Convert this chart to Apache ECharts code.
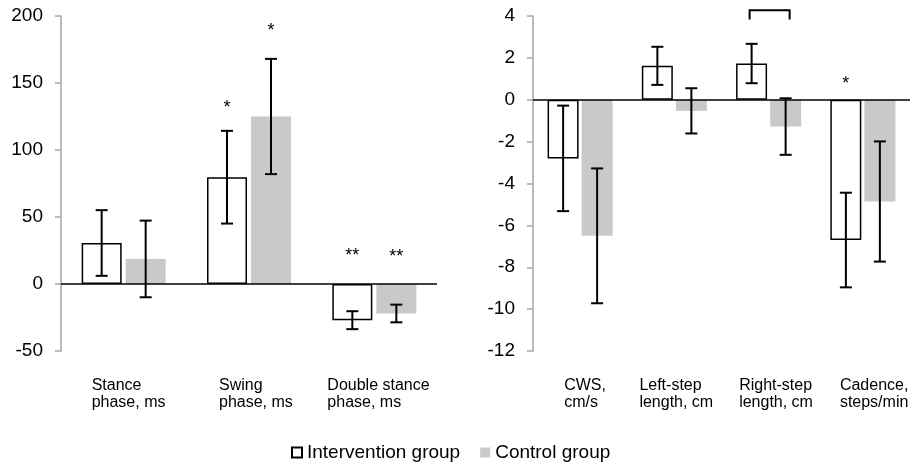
<!DOCTYPE html>
<html>
<head>
<meta charset="utf-8">
<script src="https://cdn.jsdelivr.net/npm/echarts@6/dist/echarts.min.js"></script>
<style>
html, body { margin: 0; padding: 0; background: #fff; }
#chart { width: 910px; height: 465px; }
</style>
</head>
<body>
<div id="chart"></div>
<script>
// left panel: gait phases (ms)
var phaseCats = ['Stance\nphase, ms', 'Swing\nphase, ms', 'Double stance\nphase, ms'];
var phaseInt = [30.6, 79.7, -27];
var phaseIntErr = [24.5, 34.6, 6.7];
var phaseCtrl = [18.7, 125, -22];
var phaseCtrlErr = [28.6, 43, 6.6];
var phaseStarInt = ['', '*', '**'];
var phaseStarIntY = [null, 134, 24];
var phaseStarCtrl = ['', '*', '**'];
var phaseStarCtrlY = [null, 192, 23];

// right panel: speed / step / cadence
var gaitCats = ['CWS,\ncm/s', 'Left-step\nlength, cm', 'Right-step\nlength, cm', 'Cadence,\nsteps/min'];
var gaitInt = [-2.8, 1.62, 1.73, -6.7];
var gaitIntErr = [2.52, 0.91, 0.94, 2.26];
var gaitCtrl = [-6.5, -0.53, -1.28, -4.86];
var gaitCtrlErr = [3.22, 1.08, 1.35, 2.87];
var gaitStarInt = ['', '', '', '*'];
var gaitStarIntY = [null, null, null, 0.93];
// bracket over right-step length: [category, top, leg end]
var gaitBracket = [[2, 4.28, 3.83]];

var FONT = 'Liberation Sans, Arial, sans-serif';
var CTRL_COLOR = '#c9c9c9';

var chart = echarts.init(document.getElementById('chart'));

function pairs(vals, errs) {
    var out = [];
    for (var i = 0; i < vals.length; i++) out.push([i, vals[i], errs[i]]);
    return out;
}
function starData(ys) {
    var out = [];
    for (var i = 0; i < ys.length; i++) if (ys[i] != null) out.push([i, ys[i]]);
    return out;
}

function errorRender(offset) {
    return function (params, api) {
        var x = api.coord([api.value(0), 0])[0] + offset;
        var v = api.value(1), e = api.value(2);
        var hi = api.coord([api.value(0), v + e])[1];
        var lo = api.coord([api.value(0), v - e])[1];
        var cap = 6;
        var st = { stroke: '#000', lineWidth: 2 };
        return {
            type: 'group',
            children: [
                { type: 'line', shape: { x1: x, y1: hi, x2: x, y2: lo }, style: st },
                { type: 'line', shape: { x1: x - cap, y1: hi, x2: x + cap, y2: hi }, style: st },
                { type: 'line', shape: { x1: x - cap, y1: lo, x2: x + cap, y2: lo }, style: st }
            ]
        };
    };
}

function starRender(offset, texts) {
    return function (params, api) {
        var p = api.coord([api.value(0), api.value(1)]);
        return {
            type: 'text',
            style: {
                x: p[0] + offset, y: p[1] + 4,
                text: texts[api.value(0)],
                fill: '#000', font: '18px ' + FONT,
                align: 'center', verticalAlign: 'middle'
            }
        };
    };
}

function bracketRender(offset) {
    return function (params, api) {
        var c = api.coord([api.value(0), api.value(1)]);
        var leg = api.coord([api.value(0), api.value(2)])[1];
        var x1 = c[0] - offset - 2, x2 = c[0] + offset + 4;
        return {
            type: 'polyline',
            shape: { points: [[x1, leg], [x1, c[1]], [x2, c[1]], [x2, leg]] },
            style: { stroke: '#000', lineWidth: 2, fill: null }
        };
    };
}

// category labels: left-aligned lines, block shifted per category
function catAxis(grid, cats, widths) {
    var rich = {};
    for (var i = 0; i < widths.length; i++) {
        rich['c' + i] = { width: widths[i], align: 'left', fontSize: 16, lineHeight: 17, fontFamily: FONT, color: '#000' };
    }
    return {
        type: 'category', gridIndex: grid, data: cats,
        axisLine: { show: false }, axisTick: { show: false },
        axisLabel: {
            interval: 0, margin: 26, align: 'center',
            formatter: function (value, idx) {
                return value.split('\n').map(function (s) { return '{c' + idx + '|' + s + '}'; }).join('\n');
            },
            rich: rich
        }
    };
}

function valAxis(grid, min, max, step) {
    return {
        type: 'value', gridIndex: grid, min: min, max: max, interval: step,
        axisLine: { show: true, lineStyle: { color: '#a6a6a6', width: 1.5 } },
        axisTick: { show: true, length: 6, lineStyle: { color: '#a6a6a6', width: 1.5 } },
        splitLine: { show: false },
        axisLabel: { margin: 18, fontSize: 19, fontFamily: FONT, color: '#000' }
    };
}

var zeroLine = {
    silent: true, symbol: 'none', label: { show: false },
    lineStyle: { color: '#000', width: 1.5, type: 'solid' },
    data: [{ yAxis: 0 }]
};

var leftOff = 22, rightOff = 17;

chart.setOption({
    animation: false,
    textStyle: { fontFamily: FONT },
    grid: [
        { left: 61, top: 16, width: 376, bottom: 114, containLabel: false, outerBoundsMode: 'none' },
        { left: 533, top: 16, width: 377, bottom: 114, containLabel: false, outerBoundsMode: 'none' }
    ],
    legend: {
        left: 286, top: 438,
        itemWidth: 10, itemHeight: 10, itemGap: 20,
        textStyle: { fontSize: 19, fontFamily: FONT, color: '#000' },
        data: [
            { name: 'Intervention group', icon: 'rect', itemStyle: { color: '#fff', borderColor: '#000', borderWidth: 2 } },
            { name: 'Control group', icon: 'rect', itemStyle: { color: CTRL_COLOR, borderWidth: 0 } }
        ]
    },
    xAxis: [
        catAxis(0, phaseCats, [64, 60, 94]),
        catAxis(1, gaitCats, [32, 70, 59, 46])
    ],
    yAxis: [
        valAxis(0, -50, 200, 50),
        valAxis(1, -12, 4, 2)
    ],
    series: [
        {
            name: 'Intervention group', type: 'bar', xAxisIndex: 0, yAxisIndex: 0,
            data: phaseInt, barWidth: 40, barGap: '10%',
            itemStyle: { color: '#fff', borderColor: '#000', borderWidth: 1.5 },
            markLine: zeroLine
        },
        {
            name: 'Control group', type: 'bar', xAxisIndex: 0, yAxisIndex: 0,
            data: phaseCtrl, barWidth: 40, barGap: '10%',
            itemStyle: { color: CTRL_COLOR }
        },
        {
            name: 'Intervention group', type: 'bar', xAxisIndex: 1, yAxisIndex: 1,
            data: gaitInt, barWidth: 31, barGap: '10%',
            itemStyle: { color: '#fff', borderColor: '#000', borderWidth: 1.5 },
            markLine: zeroLine
        },
        {
            name: 'Control group', type: 'bar', xAxisIndex: 1, yAxisIndex: 1,
            data: gaitCtrl, barWidth: 31, barGap: '10%',
            itemStyle: { color: CTRL_COLOR }
        },
        { type: 'custom', name: 'errA', xAxisIndex: 0, yAxisIndex: 0, z: 5, renderItem: errorRender(-leftOff), data: pairs(phaseInt, phaseIntErr) },
        { type: 'custom', name: 'errB', xAxisIndex: 0, yAxisIndex: 0, z: 5, renderItem: errorRender(leftOff), data: pairs(phaseCtrl, phaseCtrlErr) },
        { type: 'custom', name: 'errC', xAxisIndex: 1, yAxisIndex: 1, z: 5, renderItem: errorRender(-rightOff), data: pairs(gaitInt, gaitIntErr) },
        { type: 'custom', name: 'errD', xAxisIndex: 1, yAxisIndex: 1, z: 5, renderItem: errorRender(rightOff), data: pairs(gaitCtrl, gaitCtrlErr) },
        { type: 'custom', name: 'starA', xAxisIndex: 0, yAxisIndex: 0, z: 5, renderItem: starRender(-leftOff, phaseStarInt), data: starData(phaseStarIntY) },
        { type: 'custom', name: 'starB', xAxisIndex: 0, yAxisIndex: 0, z: 5, renderItem: starRender(leftOff, phaseStarCtrl), data: starData(phaseStarCtrlY) },
        { type: 'custom', name: 'starC', xAxisIndex: 1, yAxisIndex: 1, z: 5, renderItem: starRender(-rightOff, gaitStarInt), data: starData(gaitStarIntY) },
        { type: 'custom', name: 'bracket', xAxisIndex: 1, yAxisIndex: 1, z: 5, clip: false, renderItem: bracketRender(rightOff), data: gaitBracket }
    ]
});
</script>
</body>
</html>
